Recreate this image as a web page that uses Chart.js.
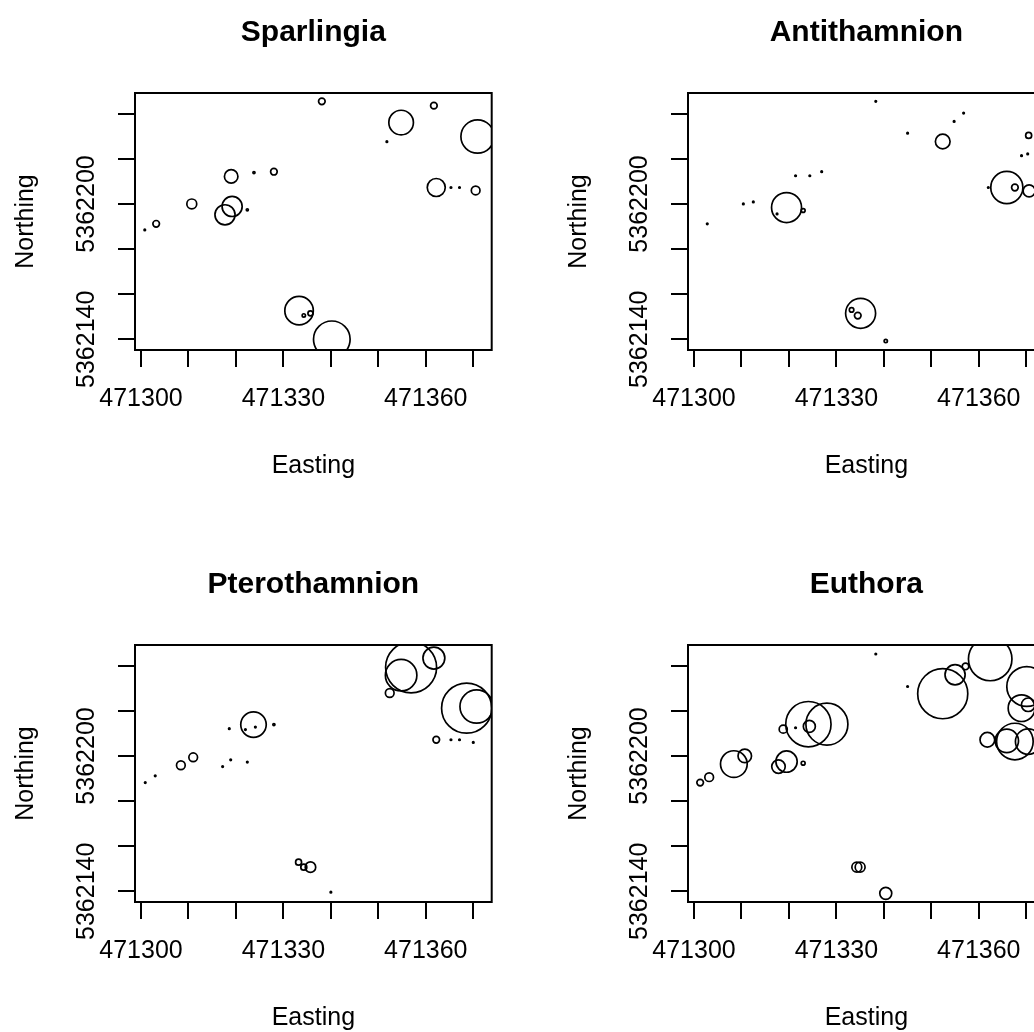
<!DOCTYPE html>
<html>
<head>
<meta charset="utf-8">
<script src="https://cdn.jsdelivr.net/npm/chart.js@4/dist/chart.umd.min.js"></script>
<style>
  html, body { margin: 0; padding: 0; background: #fff; }
  #wrap { position: relative; width: 1034px; height: 1032px; overflow: hidden; background: #fff; }
  canvas { position: absolute; }
</style>
</head>
<body>
<div id="wrap">
  <canvas id="c0" width="553" height="552" style="left:0;top:0"></canvas>
  <canvas id="c1" width="553" height="552" style="left:553px;top:0"></canvas>
  <canvas id="c2" width="553" height="552" style="left:0;top:552px"></canvas>
  <canvas id="c3" width="553" height="552" style="left:553px;top:552px"></canvas>
</div>
<script>
// ---- axis ticks / labels ----
const xTicks = [471300, 471310, 471320, 471330, 471340, 471350, 471360, 471370];
const xTickLabels = [471300, 471330, 471360];
const yTicks = [5362140, 5362160, 5362180, 5362200, 5362220, 5362240];
const yTickLabels = [5362140, 5362200];
const xRange = [471298.74, 471373.88];
const yRange = [5362135.25, 5362249.2];
const xTitle = 'Easting';
const yTitle = 'Northing';
const speciesNames = ['Sparlingia', 'Antithamnion', 'Pterothamnion', 'Euthora'];

// ---- Sparlingia ----
const spEasting = [471338.1, 471354.8, 471361.7, 471370.9, 471351.8, 471362.2, 471365.3, 471367.1, 471370.5, 471319.0, 471323.8, 471328.0, 471310.7, 471319.2, 471317.7, 471322.4, 471303.2, 471300.8, 471333.3, 471334.3, 471335.7, 471340.2];
const spNorthing = [5362245.5, 5362236.1, 5362243.6, 5362229.9, 5362227.6, 5362207.3, 5362207.3, 5362207.3, 5362206.0, 5362212.2, 5362213.9, 5362214.3, 5362200.0, 5362198.9, 5362195.2, 5362197.4, 5362191.2, 5362188.5, 5362152.7, 5362150.6, 5362151.5, 5362140.0];
const spAbundance = [2.2, 8.2, 2.2, 11.1, 0.5, 6, 0.5, 0.5, 2.9, 4.5, 0.7, 2.2, 3.3, 6.7, 6.7, 0.7, 2.2, 0.5, 9.5, 1.1, 1.7, 12.2];

// ---- Antithamnion ----
const anEasting = [471338.3, 471345.0, 471354.8, 471356.8, 471352.4, 471370.5, 471369.0, 471370.3, 471365.9, 471367.6, 471370.6, 471362.0, 471321.4, 471324.4, 471326.9, 471310.4, 471312.5, 471319.5, 471317.5, 471323.0, 471302.8, 471335.1, 471333.2, 471334.5, 471340.4];
const anNorthing = [5362245.5, 5362231.4, 5362236.6, 5362240.3, 5362227.7, 5362230.4, 5362221.4, 5362222.2, 5362207.3, 5362207.3, 5362205.8, 5362207.3, 5362212.5, 5362212.5, 5362214.3, 5362200.0, 5362200.9, 5362198.4, 5362195.6, 5362197.1, 5362191.2, 5362151.5, 5362153.0, 5362150.5, 5362139.2];
const anAbundance = [0.5, 0.5, 0.5, 0.5, 4.9, 2, 0.5, 0.5, 10.7, 2.2, 4, 0.5, 0.5, 0.5, 0.5, 0.5, 0.5, 10, 0.5, 1.3, 0.5, 10, 1.5, 2.2, 1.1];

// ---- Pterothamnion ----
const ptEasting = [471356.9, 471354.8, 471361.7, 471352.4, 471368.6, 471370.7, 471362.2, 471365.3, 471367.1, 471370.0, 471323.7, 471318.6, 471322.0, 471324.1, 471328.0, 471308.4, 471311.0, 471317.2, 471318.9, 471322.4, 471300.9, 471303.0, 471333.2, 471334.3, 471335.7, 471340.0];
const ptNorthing = [5362239.3, 5362235.8, 5362243.4, 5362227.9, 5362221.2, 5362221.9, 5362207.2, 5362207.2, 5362207.2, 5362206.0, 5362213.9, 5362212.1, 5362211.7, 5362212.8, 5362213.9, 5362195.9, 5362199.4, 5362195.3, 5362198.3, 5362197.3, 5362188.2, 5362191.2, 5362152.9, 5362150.7, 5362150.7, 5362139.6];
const ptAbundance = [17, 10.5, 7.3, 2.9, 16.7, 11.1, 2.2, 0.5, 0.5, 0.5, 8.5, 0.5, 0.5, 0.5, 0.7, 2.9, 2.9, 0.5, 0.5, 0.5, 0.5, 0.5, 2, 2, 3.5, 0.5];

// ---- Euthora ----
const euEasting = [471338.3, 471345.0, 471352.4, 471355.0, 471357.2, 471362.4, 471370.1, 471369.0, 471370.4, 471367.6, 471365.9, 471361.8, 471370.4, 471324.1, 471328.0, 471324.3, 471318.8, 471321.4, 471308.4, 471310.7, 471319.5, 471317.8, 471323.0, 471301.3, 471303.2, 471334.3, 471335.0, 471340.4];
const euNorthing = [5362245.2, 5362230.8, 5362227.6, 5362236.0, 5362239.7, 5362243.0, 5362230.8, 5362221.2, 5362222.7, 5362206.4, 5362206.7, 5362207.2, 5362206.4, 5362214.1, 5362214.1, 5362213.1, 5362211.9, 5362212.5, 5362196.4, 5362200.0, 5362197.5, 5362195.3, 5362196.8, 5362188.2, 5362190.6, 5362150.7, 5362150.7, 5362139.1];
const euAbundance = [0.5, 0.5, 16.7, 6.7, 2.2, 14.5, 13.3, 8.9, 4.5, 12.2, 7.8, 4.9, 8.5, 15.1, 14, 4, 2.7, 0.5, 8.9, 4.5, 7.1, 4.5, 1.3, 2.2, 2.9, 3.3, 3.3, 4];

const panels = [
  [spEasting, spNorthing, spAbundance],
  [anEasting, anNorthing, anAbundance],
  [ptEasting, ptNorthing, ptAbundance],
  [euEasting, euNorthing, euAbundance]
];

const RADIUS_PER_UNIT = 1.5;
const FONT = "'Liberation Sans', Arial, sans-serif";
Chart.defaults.font.family = FONT;
Chart.defaults.color = '#000';

const boxPlugin = {
  id: 'rbox',
  afterDatasetsDraw(chart) {
    const a = chart.chartArea, ctx = chart.ctx;
    ctx.save();
    ctx.strokeStyle = '#000';
    ctx.lineWidth = 2;
    ctx.strokeRect(a.left, a.top, a.right - a.left, a.bottom - a.top);
    ctx.restore();
  }
};

panels.forEach((p, i) => {
  const [ex, ny, ab] = p;
  const pts = ex.map((e, k) => ({ x: e, y: ny[k], r: ab[k] * RADIUS_PER_UNIT }));
  new Chart(document.getElementById('c' + i), {
    type: 'bubble',
    data: { datasets: [{
      data: pts,
      backgroundColor: 'rgba(0,0,0,0)',
      borderColor: '#000',
      borderWidth: 1.7,
      clip: 0
    }]},
    plugins: [boxPlugin],
    options: {
      responsive: false,
      animation: false,
      devicePixelRatio: 1,
      events: [],
      layout: { padding: { top: 0, left: 0, right: 61.3, bottom: 0 } },
      plugins: {
        legend: { display: false },
        tooltip: { enabled: false },
        title: {
          display: true,
          fullSize: false,
          text: speciesNames[i],
          color: '#000',
          font: { size: 30, weight: 'bold', family: FONT },
          padding: { top: 15, bottom: 42 }
        }
      },
      scales: {
        x: {
          type: 'linear',
          position: 'bottom',
          min: xRange[0], max: xRange[1],
          afterBuildTicks: (s) => { s.ticks = xTicks.map(v => ({ value: v })); },
          afterFit: (s) => { s.height = 202; },
          grid: { drawOnChartArea: false, drawTicks: true, tickLength: 17, color: '#000', lineWidth: 2 },
          border: { display: false },
          ticks: {
            autoSkip: false, maxRotation: 0, minRotation: 0,
            padding: 17,
            color: '#000',
            font: { size: 25, family: FONT },
            callback: (v) => xTickLabels.includes(v) ? String(v) : ''
          },
          title: {
            display: true, text: xTitle, color: '#000',
            font: { size: 25, family: FONT },
            padding: { top: 0, bottom: 70.7 }
          }
        },
        y: {
          type: 'linear',
          position: 'left',
          min: yRange[0], max: yRange[1],
          afterBuildTicks: (s) => { s.ticks = yTicks.map(v => ({ value: v })); },
          afterFit: (s) => { s.width = 135; },
          grid: { drawOnChartArea: false, drawTicks: true, tickLength: 17, color: '#000', lineWidth: 2 },
          border: { display: false },
          ticks: {
            autoSkip: false, minRotation: 90, maxRotation: 90,
            crossAlign: 'center',
            padding: -18,
            color: '#000',
            font: { size: 25, family: FONT },
            callback: (v) => yTickLabels.includes(v) ? String(v) : ''
          },
          title: {
            display: true, text: yTitle, color: '#000',
            font: { size: 25, family: FONT },
            padding: { top: 11, bottom: 0 }
          }
        }
      }
    }
  });
});
</script>
</body>
</html>
